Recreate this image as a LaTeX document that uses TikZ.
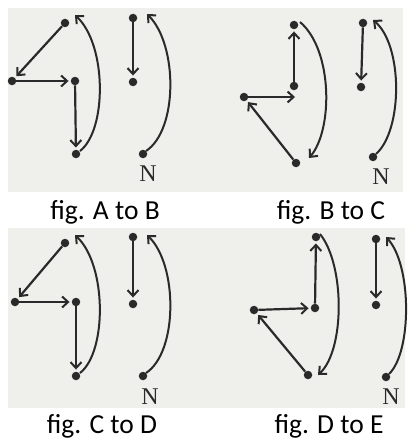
\documentclass[tikz,border=0pt]{standalone}
\usepackage{fontspec}
\setmainfont{Carlito}
\newfontfamily\nfont{Liberation Serif}
\usetikzlibrary{arrows.meta}
\definecolor{ink}{HTML}{2A2A2A}
\definecolor{paper}{HTML}{EFEFEC}
\tikzset{
  dot/.style={circle,fill=ink,inner sep=0pt,minimum size=8.5pt},
  arr/.style={draw=ink,line width=2.2pt,-{Straight Barb[length=6pt,width=11pt,line width=2pt]},shorten >=2pt},
  arcline/.style={draw=ink,line width=2pt,-{Straight Barb[length=6pt,width=11pt,line width=2pt]}},
  panel/.style={fill=paper,draw=none},
  figcap/.style={font=\fontsize{27.5}{30}\selectfont,anchor=base,text=black},
  nlab/.style={font=\nfont\fontsize{24}{26}\selectfont,text=ink,inner sep=0pt}
}
\begin{document}
\begin{tikzpicture}[x=1pt,y=-1pt]
\useasboundingbox (0,0) rectangle (412,444);
\fill[white] (0,0) rectangle (412,444);
\fill[panel] (8,8) rectangle (206,192);
\fill[panel] (206,8) rectangle (403,192);
\fill[panel] (8,228) rectangle (206,408);
\fill[panel] (206,228) rectangle (405,408);

% ---------- panel A to B ----------
\node[dot] (t1) at (65,23) {};
\node[dot] (l1) at (12,81) {};
\node[dot] (m1) at (75,81) {};
\node[dot] (b1) at (76,154) {};
\node[dot] (r1t) at (133,18) {};
\node[dot] (r1b) at (133,82) {};
\node[dot] (n1) at (143,154) {};
\node[nlab] (n1l) at (148,174) {N};
\coordinate (a1s) at (80,151);
\coordinate (a1e) at (75,15);
\coordinate (c1s) at (146,151);
\coordinate (c1e) at (147,14);
\draw[arr] (t1) -- (l1);
\draw[arr] (l1) -- (m1);
\draw[arr] (m1) -- (b1);
\draw[arr] (r1t) -- (r1b);
\draw[arcline] (a1s) .. controls (107,130) and (107,45) .. (a1e);
\draw[arcline] (c1s) .. controls (178,130) and (178,45) .. (c1e);
\node[figcap] (cA) at (105,219) {fig. A to B};

% ---------- panel B to C ----------
\node[dot] (t2) at (294,25) {};
\node[dot] (m2) at (294,86) {};
\node[dot] (l2) at (244,97) {};
\node[dot] (b2) at (296,163) {};
\node[dot] (r2t) at (363,23) {};
\node[dot] (r2b) at (361,87) {};
\node[dot] (n2) at (373,157) {};
\node[nlab] (n2l) at (381,177) {N};
\coordinate (m2e) at (297,97);
\coordinate (a2s) at (300,22);
\coordinate (a2e) at (309,158);
\coordinate (c2s) at (376,154);
\coordinate (c2e) at (373,20);
\draw[arr] (m2) -- (t2);
\draw[arr] (l2) -- (m2e);
\draw[arr] (b2) -- (l2);
\draw[arr] (r2t) -- (r2b);
\draw[arcline] (a2s) .. controls (333,50) and (333,130) .. (a2e);
\draw[arcline] (c2s) .. controls (403,130) and (403,45) .. (c2e);
\node[figcap] (cB) at (331,219) {fig. B to C};

% ---------- panel C to D ----------
\node[dot] (t3) at (65,243) {};
\node[dot] (l3) at (15,302) {};
\node[dot] (m3) at (76,302) {};
\node[dot] (b3) at (76,376) {};
\node[dot] (r3t) at (133,237) {};
\node[dot] (r3b) at (133,304) {};
\node[dot] (n3) at (143,376) {};
\node[nlab] (n3l) at (150,397) {N};
\coordinate (a3s) at (80,373);
\coordinate (a3e) at (75,235);
\coordinate (c3s) at (146,373);
\coordinate (c3e) at (147,235);
\draw[arr] (t3) -- (l3);
\draw[arr] (l3) -- (m3);
\draw[arr] (m3) -- (b3);
\draw[arr] (r3t) -- (r3b);
\draw[arcline] (a3s) .. controls (107,352) and (107,265) .. (a3e);
\draw[arcline] (c3s) .. controls (178,352) and (178,265) .. (c3e);
\node[figcap] (cC) at (102,433) {fig. C to D};

% ---------- panel D to E ----------
\node[dot] (t4) at (316,237) {};
\node[dot] (m4) at (315,308) {};
\node[dot] (l4) at (254,310) {};
\node[dot] (b4) at (308,375) {};
\node[dot] (r4t) at (376,239) {};
\node[dot] (r4b) at (376,305) {};
\node[dot] (n4) at (386,377) {};
\node[nlab] (n4l) at (391,397) {N};
\coordinate (a4s) at (320,234);
\coordinate (a4e) at (318,375);
\coordinate (c4s) at (389,374);
\coordinate (c4e) at (386,237);
\draw[arr] (m4) -- (t4);
\draw[arr] (l4) -- (m4);
\draw[arr] (b4) -- (l4);
\draw[arr] (r4t) -- (r4b);
\draw[arcline] (a4s) .. controls (345,265) and (345,350) .. (a4e);
\draw[arcline] (c4s) .. controls (412,352) and (412,265) .. (c4e);
\node[figcap] (cD) at (329,433) {fig. D to E};
\end{tikzpicture}
\end{document}
